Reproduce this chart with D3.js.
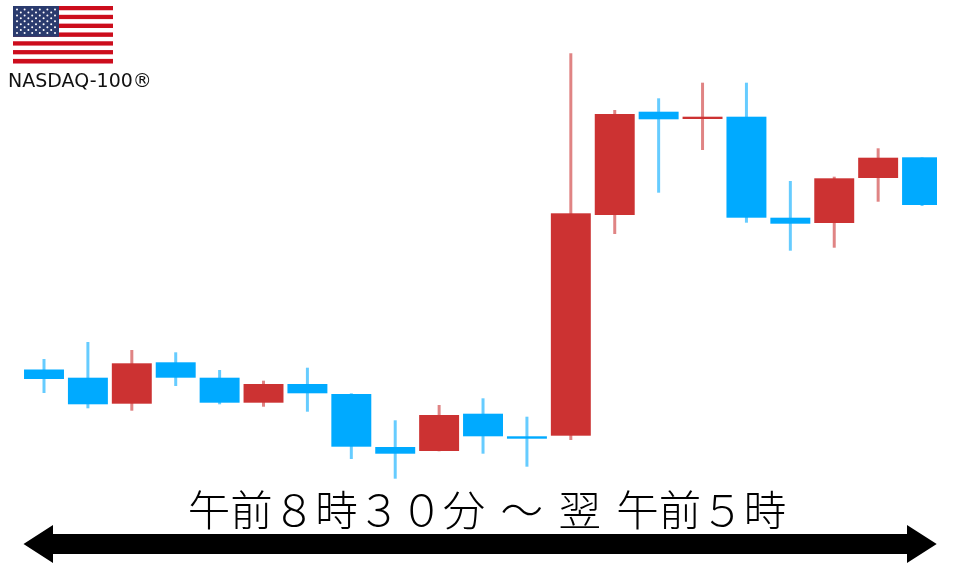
<!DOCTYPE html>
<html lang="ja">
	<head>
		<meta charset="utf-8">
		<title>NASDAQ-100</title>
		<script src="https://cdn.jsdelivr.net/npm/d3@7/dist/d3.min.js"></script>
		<style>
			html, body { margin: 0; padding: 0; background: #fff; overflow: hidden; }
			svg { display: block; }
		</style>
	</head>
	<body>
		<script>
			// hourly bars, values (index, no axis in the original)
			var hours = ["08:30","09:30","10:30","11:30","12:30","13:30","14:30","15:30","16:30","17:30","18:30",
				"19:30","20:30","21:30","22:30","23:30","00:30","01:30","02:30","03:30","04:30"];
			var opens  = [110.5, 102.3, 76.3, 117.7, 102.3, 77.3, 96, 86, 33, 29, 66.3, 43.7, 44.3, 265, 368.3, 361, 363.3, 262.3, 257, 302, 322.7];
			var closes = [101, 75.7, 116.7, 102.3, 77.3, 96, 86.7, 33.3, 26.3, 65, 43.7, 41.3, 266.7, 366, 360.7, 363.3, 262.3, 256.3, 301.7, 322.3, 275];
			var highs  = [121, 138, 130, 127.7, 110, 99.3, 112.3, 86.7, 59.7, 75, 81.7, 63.3, 426.7, 370, 381.7, 397.3, 397.3, 299, 303.3, 331.7, 322.7];
			var lows   = [87, 71.7, 69.3, 94, 75.7, 73.3, 68.3, 21, 1.3, 28.7, 26.3, 13.3, 40, 246, 287.3, 330, 257.3, 229.3, 232.3, 278.3, 274];

			var title = "午前８時３０分 ～ 翌 午前５時";
			var flagLabel = "NASDAQ-100®";
			var upColor = "#cc3333", downColor = "#00aaff";

			var width = 960, height = 567;

			var candles = hours.map(function(h, i) {
				return {hour: h, open: opens[i], close: closes[i], high: highs[i], low: lows[i]};
			});

			var svg = d3.select("body").append("svg")
				.attr("width", width)
				.attr("height", height);

			var defs = svg.append("defs");
			defs.append("filter").attr("id", "soft")
				.attr("filterUnits", "userSpaceOnUse")
				.attr("x", 0).attr("y", 0).attr("width", width).attr("height", height)
				.append("feGaussianBlur").attr("stdDeviation", 0.6);
			defs.append("clipPath").attr("id", "plot")
				.append("rect").attr("x", 0).attr("y", 0).attr("width", 937).attr("height", height);

			var x = d3.scaleBand()
				.domain(hours)
				.range([22.05, 944])
				.paddingInner(0.09)
				.paddingOuter(0.045);

			var y = d3.scaleLinear()
				.domain([0, 430])
				.range([480, 50]);

			var plot = svg.append("g")
				.attr("clip-path", "url(#plot)")
				.append("g")
				.attr("filter", "url(#soft)");

			var candle = plot.selectAll("g")
				.data(candles)
				.enter().append("g")
				.attr("transform", function(d) { return "translate(" + x(d.hour) + ",0)"; });

			function barColor(d) { return d.close >= d.open ? upColor : downColor; }

			candle.append("line")
				.attr("x1", x.bandwidth() / 2)
				.attr("x2", x.bandwidth() / 2)
				.attr("y1", function(d) { return y(d.high); })
				.attr("y2", function(d) { return y(d.low); })
				.attr("stroke", barColor)
				.attr("stroke-opacity", 0.6)
				.attr("stroke-width", 3);

			candle.append("rect")
				.attr("width", x.bandwidth())
				.attr("y", function(d) { return y(Math.max(d.open, d.close)); })
				.attr("height", function(d) { return Math.max(1.5, Math.abs(y(d.open) - y(d.close))); })
				.attr("fill", barColor);

			// time span arrow
			var arrow = d3.path();
			arrow.moveTo(23.5, 544);
			arrow.lineTo(53, 525);
			arrow.lineTo(53, 534);
			arrow.lineTo(907, 534);
			arrow.lineTo(907, 525);
			arrow.lineTo(936.7, 544);
			arrow.lineTo(907, 563);
			arrow.lineTo(907, 554);
			arrow.lineTo(53, 554);
			arrow.lineTo(53, 563);
			arrow.closePath();
			svg.append("path").attr("d", arrow.toString()).attr("fill", "#000");

			svg.append("text")
				.attr("x", 487)
				.attr("y", 526)
				.attr("text-anchor", "middle")
				.attr("font-family", "'Noto Sans CJK JP'")
				.attr("font-weight", 300)
				.attr("font-size", 42.5)
				.attr("word-spacing", 6)
				.attr("fill", "#000")
				.text(title);

			// flag
			var flag = svg.append("g").attr("filter", "url(#soft)");
			var stripe = d3.scaleBand().domain(d3.range(13)).range([6, 63.3]);
			flag.selectAll(".stripe")
				.data(d3.range(13))
				.enter().append("rect")
				.attr("class", "stripe")
				.attr("x", 13)
				.attr("y", function(d) { return stripe(d); })
				.attr("width", 100)
				.attr("height", stripe.bandwidth() + 0.2)
				.attr("fill", function(d) { return d % 2 ? "#fff" : "#cc0a1e"; });
			flag.append("rect")
				.attr("x", 13).attr("y", 6)
				.attr("width", 46).attr("height", stripe(7) - 6)
				.attr("fill", "#2c3a6e");

			var starRows = d3.range(9);
			var starY = d3.scalePoint().domain(starRows).range([9.5, 33]);
			var starX = d3.scalePoint().domain(d3.range(11)).range([17, 55]);
			var stars = [];
			starRows.forEach(function(r) {
				d3.range(11).forEach(function(c) {
					if ((r + c) % 2 == 0) stars.push({r: r, c: c});
				});
			});
			flag.selectAll("circle")
				.data(stars)
				.enter().append("circle")
				.attr("cx", function(d) { return starX(d.c); })
				.attr("cy", function(d) { return starY(d.r); })
				.attr("r", 1)
				.attr("fill", "#fff");

			svg.append("text")
				.attr("x", 8)
				.attr("y", 87)
				.attr("font-family", "'DejaVu Sans'")
				.attr("font-size", 19)
				.attr("fill", "#111")
				.text(flagLabel);
		</script>
	</body>
</html>
